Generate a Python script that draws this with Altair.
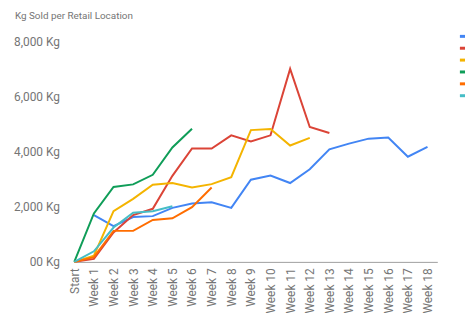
import altair as alt
import pandas as pd

categories = ["Start"] + [f"Week {i}" for i in range(1, 19)]
series_names = ["Retail Location 1", "Retail Location 2", "Retail Location 3",
                "Retail Location 4", "Retail Location 5", "Retail Location 6"]
colors = ["#4285F4", "#DB4437", "#F4B400", "#0F9D58", "#FF6D00", "#46BDC6"]

loc1 = [None, 1700, 1300, 1625, 1660, 1960, 2115, 2165, 1960, 2980, 3130, 2860, 3360, 4080, 4290, 4470, 4510, 3815, 4175]
loc2 = [0, 108, 1065, 1700, 1925, 3120, 4113, 4113, 4590, 4370, 4590, 7000, 4890, 4675]
loc3 = [0, 227, 1840, 2285, 2800, 2860, 2700, 2820, 3075, 4780, 4820, 4220, 4495]
loc4 = [0, 1758, 2715, 2810, 3157, 4150, 4830]
loc5 = [0, 170, 1125, 1125, 1520, 1580, 1985, 2700]
loc6 = [0, 385, 1245, 1780, 1840, 2020]
y_ticks = [0, 2000, 4000, 6000, 8000]

rows = []
for name, vals in zip(series_names, [loc1, loc2, loc3, loc4, loc5, loc6]):
    for i, v in enumerate(vals):
        if v is not None:
            rows.append({"idx": i, "week": categories[i], "series": name, "kg": v})
df = pd.DataFrame(rows)

label_expr = "[" + ",".join(f"'{c}'" for c in categories) + "][datum.value]"

chart = alt.Chart(df).mark_line(strokeWidth=2).encode(
    x=alt.X("idx:Q",
            scale=alt.Scale(domain=[0, 18.5], nice=False, zero=True),
            axis=alt.Axis(title=None, values=list(range(len(categories))),
                          labelExpr=label_expr, labelAngle=270, ticks=False,
                          grid=False, domainColor="#9e9e9e", labelColor="#757575",
                          labelFontSize=12, labelPadding=6, labelFont="Roboto")),
    y=alt.Y("kg:Q",
            scale=alt.Scale(domain=[0, 8000], nice=False),
            axis=alt.Axis(title=None, values=y_ticks, grid=False, domain=False, ticks=False,
                          labelExpr="datum.value == 0 ? '00 Kg' : format(datum.value, ',') + ' Kg'",
                          labelColor="#757575", labelFontSize=12, labelPadding=15,
                          labelFont="Roboto")),
    color=alt.Color("series:N",
                    scale=alt.Scale(domain=series_names, range=colors),
                    legend=alt.Legend(title=None, orient="none", legendX=388, legendY=-10,
                                      symbolType="stroke", symbolStrokeWidth=3, symbolSize=40,
                                      labelFontSize=10, labelColor="#757575", rowPadding=0,
                                      labelFont="Roboto")),
    order="idx:Q",
).properties(
    width=367, height=223,
    padding={"left": 67, "top": 32, "right": 28, "bottom": 50},
    autosize=alt.AutoSizeParams(type="none"),
    title=alt.TitleParams("Kg Sold per Retail Location", anchor="start", frame="group",
                          dx=-60, offset=11, fontSize=10, fontWeight="normal",
                          color="#757575", font="Roboto"),
).configure_view(stroke=None)

chart.save("out.html", embed_options={"renderer": "svg", "actions": False})
